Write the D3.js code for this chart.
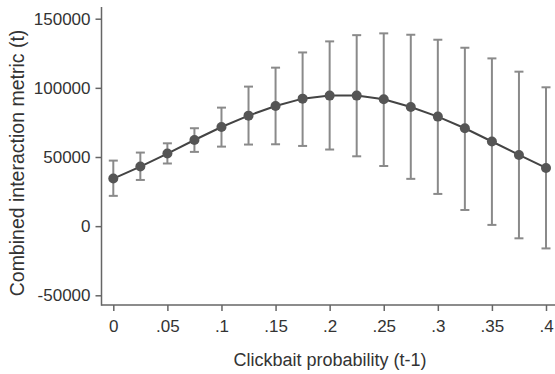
<!DOCTYPE html>
<html>
<head>
<meta charset="utf-8">
<script src="https://cdn.jsdelivr.net/npm/d3@7"></script>
<style>
  html, body { margin: 0; padding: 0; background: #fff; }
  svg { display: block; }
  text { font-family: "Liberation Sans", Arial, sans-serif; fill: #333; }
</style>
</head>
<body>
<svg id="chart" width="555" height="374"></svg>
<script>
const xValues = [0, 0.025, 0.05, 0.075, 0.1, 0.125, 0.15, 0.175, 0.2, 0.225, 0.25, 0.275, 0.3, 0.325, 0.35, 0.375, 0.4];
const estimates = [34400, 43100, 52500, 62300, 71700, 79900, 86900, 92200, 94400, 94400, 91700, 86100, 79200, 70800, 61200, 51500, 42100];
const lower = [21900, 33400, 45300, 53700, 57500, 59000, 59200, 58000, 55400, 50500, 43500, 34200, 23300, 11700, 900, -8800, -16100];
const upper = [47400, 53200, 59900, 70800, 85700, 100900, 114600, 125600, 133600, 138100, 139400, 138400, 134800, 129000, 121300, 111700, 100400];
const xTicks = [0, 0.05, 0.1, 0.15, 0.2, 0.25, 0.3, 0.35, 0.4];
const xTickLabels = ["0", ".05", ".1", ".15", ".2", ".25", ".3", ".35", ".4"];
const yTicks = [-50000, 0, 50000, 100000, 150000];
const yTickLabels = ["-50000", "0", "50000", "100000", "150000"];
const xTitle = "Clickbait probability (t-1)";
const yTitle = "Combined interaction metric (t)";

const data = xValues.map((x, i) => ({x, est: estimates[i], lo: lower[i], hi: upper[i]}));

const svg = d3.select("#chart");
const axisX0 = 101.5, axisY0 = 305;
const x = d3.scaleLinear().domain([0, 0.4]).range([113.3, 546]);
const y = d3.scaleLinear().domain([-50000, 150000]).range([295.3, 18.7]);

const axisColor = "#666";

// axes
const gx = svg.append("g").attr("transform", `translate(0,${axisY0})`)
  .call(d3.axisBottom(x).tickValues(xTicks).tickFormat((d, i) => xTickLabels[i]).tickSize(6).tickPadding(9).tickSizeOuter(0));
gx.select(".domain").remove();
gx.selectAll("line").attr("stroke", axisColor).attr("stroke-width", 1.5);
gx.selectAll("text").attr("font-size", 17).style("font-family", "'Liberation Sans', Arial, sans-serif").attr("fill", "#333");

const gy = svg.append("g").attr("transform", `translate(${axisX0},0)`)
  .call(d3.axisLeft(y).tickValues(yTicks).tickFormat((d, i) => yTickLabels[i]).tickSize(6).tickPadding(5).tickSizeOuter(0));
gy.select(".domain").remove();
gy.selectAll("line").attr("stroke", axisColor).attr("stroke-width", 1.5);
gy.selectAll("text").attr("font-size", 17).style("font-family", "'Liberation Sans', Arial, sans-serif").attr("fill", "#333");

svg.append("line").attr("x1", axisX0).attr("x2", axisX0).attr("y1", 7).attr("y2", axisY0 + 0.75)
  .attr("stroke", axisColor).attr("stroke-width", 1.5);
svg.append("line").attr("x1", axisX0).attr("x2", 555).attr("y1", axisY0).attr("y2", axisY0)
  .attr("stroke", axisColor).attr("stroke-width", 1.5);

// error bars
const barColor = "#8a8a8a";
const cap = 4.5;
const eb = svg.append("g");
eb.selectAll("line.v").data(data).join("line").attr("class", "v")
  .attr("x1", d => x(d.x)).attr("x2", d => x(d.x))
  .attr("y1", d => y(d.lo)).attr("y2", d => y(d.hi))
  .attr("stroke", barColor).attr("stroke-width", 2);
eb.selectAll("line.t").data(data).join("line").attr("class", "t")
  .attr("x1", d => x(d.x) - cap).attr("x2", d => x(d.x) + cap)
  .attr("y1", d => y(d.hi)).attr("y2", d => y(d.hi))
  .attr("stroke", barColor).attr("stroke-width", 2);
eb.selectAll("line.b").data(data).join("line").attr("class", "b")
  .attr("x1", d => x(d.x) - cap).attr("x2", d => x(d.x) + cap)
  .attr("y1", d => y(d.lo)).attr("y2", d => y(d.lo))
  .attr("stroke", barColor).attr("stroke-width", 2);

// line + points
const ptColor = "#555";
svg.append("path").datum(data)
  .attr("d", d3.line().x(d => x(d.x)).y(d => y(d.est)))
  .attr("fill", "none").attr("stroke", "#444").attr("stroke-width", 2);
svg.append("g").selectAll("circle").data(data).join("circle")
  .attr("cx", d => x(d.x)).attr("cy", d => y(d.est)).attr("r", 5)
  .attr("fill", ptColor);

// titles
svg.append("text").attr("x", (101 + 555) / 2 + 2).attr("y", 366)
  .attr("text-anchor", "middle").attr("font-size", 18).text(xTitle);
svg.append("text").attr("transform", `translate(24,163) rotate(-90)`)
  .attr("text-anchor", "middle").attr("font-size", 19.5).text(yTitle);
</script>
</body>
</html>
